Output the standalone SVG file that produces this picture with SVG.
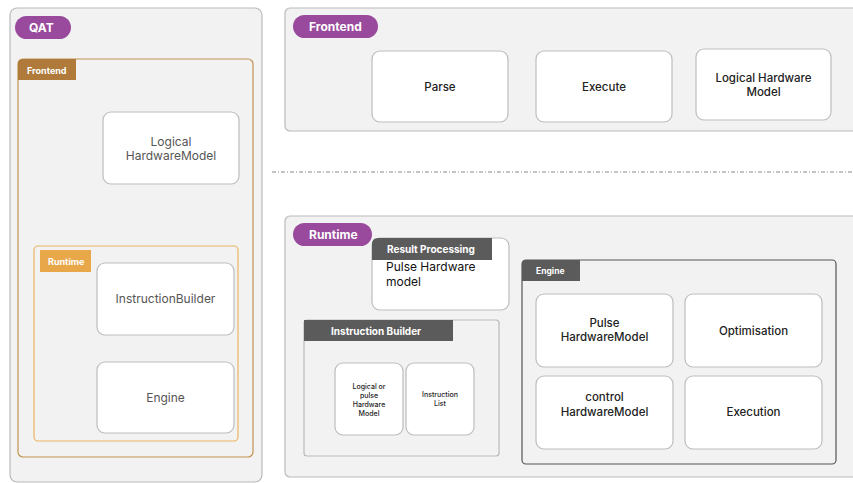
<svg xmlns="http://www.w3.org/2000/svg" width="853" height="483" viewBox="0 0 853 483">
<style>
text{font-family:Inter,"Liberation Sans",Arial,sans-serif}
.panel{fill:#f2f2f2;stroke:#b9b9b9;stroke-width:1.2}
.node{fill:#fff;stroke:#bdbdbd;stroke-width:1.2}
.pill{fill:#994a9c}
.pilltxt{fill:#fff;font-size:12px;font-weight:700}
.hdr{fill:#5b5b5b}
.hdrtxt{fill:#fff;font-size:10px;font-weight:700}
.g{fill:#555;font-size:12px;text-anchor:middle}
.b{fill:#222;font-size:11.5px;font-weight:500;text-anchor:middle}
.s{fill:#222;font-size:7px;font-weight:500;text-anchor:middle}
.tab{fill:#fff;font-size:9px;font-weight:700}
</style>
<rect width="853" height="483" fill="#fff"/>

<g id="qat">
<rect class="panel" x="10" y="8" width="252" height="474" rx="7"/>
<rect class="pill" x="15" y="16" width="56" height="23" rx="11.5"/>
<text class="pilltxt" x="29" y="32">QAT</text>
</g>
<g id="qat-frontend">
<rect x="18" y="59" width="235" height="398" rx="5" fill="none" stroke="#c0924e" stroke-width="1.2"/>
<path d="M18 64 Q18 59 23 59 L76 59 L76 80 L18 80 Z" fill="#b07a3a"/>
<text class="tab" x="27" y="74">Frontend</text>
</g>
<g id="qat-logical">
<rect class="node" x="103" y="112" width="136" height="72" rx="8"/>
<text class="g" x="171" y="146">Logical</text>
<text class="g" x="171" y="160">HardwareModel</text>
</g>
<g id="qat-runtime">
<rect x="34" y="246" width="204" height="195" rx="4" fill="none" stroke="#ebb462" stroke-width="1.2"/>
<rect x="40" y="250" width="51" height="22" fill="#e8a84a"/>
<text class="tab" x="48" y="265">Runtime</text>
</g>
<g id="qat-ib">
<rect class="node" x="97" y="263" width="137" height="72" rx="8"/>
<text class="g" x="165.5" y="303">InstructionBuilder</text>
</g>
<g id="qat-engine">
<rect class="node" x="97" y="362" width="137" height="71" rx="8"/>
<text class="g" x="165.5" y="402">Engine</text>
</g>

<g id="frontend">
<rect class="panel" x="285" y="8" width="580" height="123" rx="5"/>
<rect class="pill" x="293" y="15" width="85" height="23" rx="11.5"/>
<text class="pilltxt" x="309" y="31">Frontend</text>
</g>
<g id="parse">
<rect class="node" x="372" y="51" width="136" height="71" rx="8"/>
<text class="b" x="440" y="91">Parse</text>
</g>
<g id="execute">
<rect class="node" x="536" y="51" width="136" height="71" rx="8"/>
<text class="b" x="604" y="91">Execute</text>
</g>
<g id="lhm">
<rect class="node" x="696" y="49" width="135" height="71" rx="8"/>
<text class="b" x="763.5" y="82">Logical Hardware</text>
<text class="b" x="763.5" y="96">Model</text>
</g>

<g id="connectors">
<line x1="272" y1="172" x2="853" y2="172" stroke="#8a8a8a" stroke-width="1" stroke-dasharray="4 2 1 2"/>
</g>

<g id="runtime">
<rect class="panel" x="285" y="216" width="580" height="261" rx="5"/>
<rect class="pill" x="293" y="223" width="79" height="23" rx="11.5"/>
<text class="pilltxt" x="309" y="239">Runtime</text>
</g>
<g id="result-processing">
<rect class="node" x="372" y="238" width="137" height="72" rx="8"/>
<path d="M372 244 Q372 238 378 238 L492 238 L492 260 L372 260 Z" class="hdr"/>
<text class="hdrtxt" x="387" y="253">Result Processing</text>
<text x="386" y="271" fill="#111" font-size="12px">Pulse Hardware</text>
<text x="386" y="286" fill="#111" font-size="12px">model</text>
</g>
<g id="instruction-builder">
<rect x="304" y="320" width="195" height="136" rx="3" fill="#f2f2f2" stroke="#b9b9b9" stroke-width="1.2"/>
<rect class="hdr" x="304" y="320" width="149" height="21"/>
<text class="hdrtxt" x="331" y="335">Instruction Builder</text>
</g>
<g id="logical-or-pulse">
<rect class="node" x="335" y="363" width="68" height="72" rx="8"/>
<text class="s" x="369" y="389">Logical or</text>
<text class="s" x="369" y="398">pulse</text>
<text class="s" x="369" y="407">Hardware</text>
<text class="s" x="369" y="416">Model</text>
</g>
<g id="instruction-list">
<rect class="node" x="406" y="363" width="68" height="72" rx="8"/>
<text class="s" x="440" y="397">Instruction</text>
<text class="s" x="440" y="406">List</text>
</g>
<g id="engine">
<rect x="522" y="260" width="314" height="204" rx="4" fill="#f2f2f2" stroke="#555" stroke-width="1.2"/>
<path d="M522 264 Q522 260 526 260 L580 260 L580 281 L522 281 Z" class="hdr"/>
<text x="536" y="274" fill="#fff" font-size="8.5px" font-weight="700">Engine</text>
</g>
<g id="pulse-hm">
<rect class="node" x="536" y="294" width="137" height="73" rx="8"/>
<text class="b" x="604.5" y="327">Pulse</text>
<text class="b" x="604.5" y="341">HardwareModel</text>
</g>
<g id="optimisation">
<rect class="node" x="685" y="294" width="137" height="73" rx="8"/>
<text class="b" x="753.5" y="335">Optimisation</text>
</g>
<g id="control-hm">
<rect class="node" x="536" y="376" width="137" height="73" rx="8"/>
<text class="b" x="604.5" y="401">control</text>
<text class="b" x="604.5" y="416">HardwareModel</text>
</g>
<g id="execution">
<rect class="node" x="685" y="376" width="137" height="73" rx="8"/>
<text class="b" x="753.5" y="416">Execution</text>
</g>
</svg>
